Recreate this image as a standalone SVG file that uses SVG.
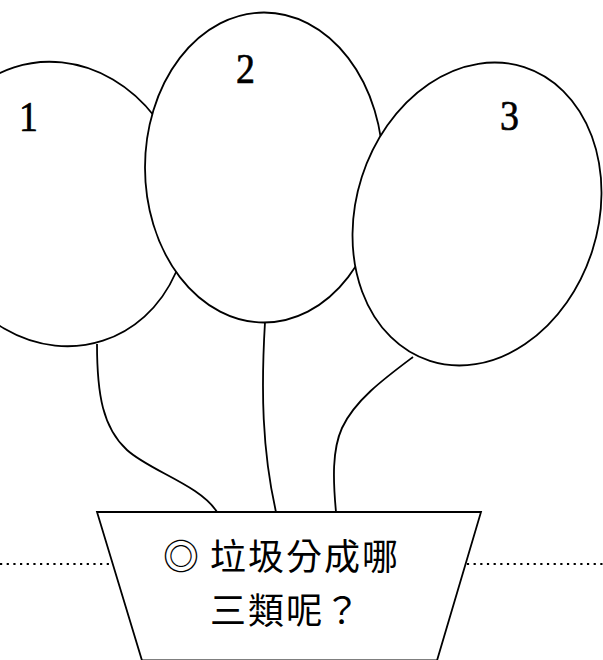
<svg xmlns="http://www.w3.org/2000/svg" width="603" height="660" viewBox="0 0 603 660">
<style>
.ln{fill:none;stroke:#000;stroke-width:1.8}
.bal{fill:#fff;stroke:#000;stroke-width:1.8}
.num{font-family:"Liberation Serif","DejaVu Serif",serif;font-size:43px;fill:#000;stroke:#000;stroke-width:0.7;text-anchor:middle}
.cjk{font-family:"Noto Sans CJK TC","Noto Sans CJK SC",sans-serif;font-size:36px;fill:#000;letter-spacing:2px}
</style>
<rect width="603" height="660" fill="#fff"/>
<line x1="0" y1="564" x2="603" y2="564" stroke="#000" stroke-width="2.2" stroke-dasharray="2.2 4.47"/>
<g id="connectors">
<path class="ln" d="M97,344 C97,395 103,428 127,450 C150,471 200,485 217,512"/>
<path class="ln" d="M265,322 C261,390 262,450 276,512"/>
<path class="ln" d="M413,357 C385,378 355,400 342,428 C332,450 333,480 336,512"/>
</g>
<g id="balloon1">
<ellipse class="bal" cx="58.5" cy="204" rx="127.6" ry="143.7" transform="rotate(-18 58.5 204)"/>
<text class="num" x="28.5" y="131" transform="translate(28.5 0) scale(0.88 1) translate(-28.5 0)">1</text>
</g>
<g id="balloon2">
<ellipse class="bal" cx="264" cy="167.5" rx="119" ry="155"/>
<text class="num" x="245.5" y="83" transform="translate(245.5 0) scale(0.88 1) translate(-245.5 0)">2</text>
</g>
<g id="balloon3">
<ellipse class="bal" cx="477" cy="214" rx="121" ry="154.3" transform="rotate(17.8 477 214)"/>
<text class="num" x="509.5" y="130" transform="translate(509.5 0) scale(0.88 1) translate(-509.5 0)">3</text>
</g>
<g id="pot">
<polygon class="bal" points="97,512 481,512 437,660.5 142,660.5"/>
<text class="cjk"><tspan x="163" y="570">◎ </tspan><tspan x="210" y="570">垃圾分成哪</tspan><tspan x="210" y="624">三類呢？</tspan></text>
</g>
</svg>
